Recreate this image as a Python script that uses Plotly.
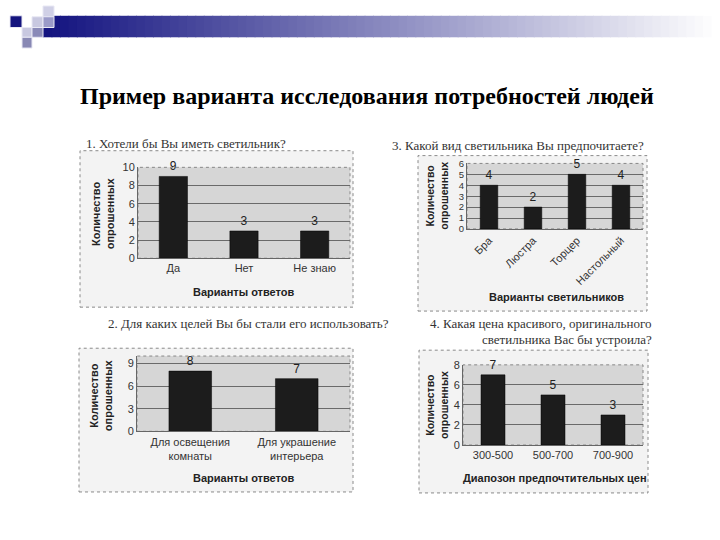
import plotly.graph_objects as go

# ---------------- data ----------------
title_text = "Пример варианта исследования потребностей людей"

q1_title = "1. Хотели бы Вы иметь светильник?"
q1_cats = ["Да", "Нет", "Не знаю"]
q1_vals = [9, 3, 3]
q1_xtitle = "Варианты ответов"

q2_title = "2. Для каких целей Вы бы стали его использовать?"
q2_cats = ["Для освещения<br>комнаты", "Для украшение<br>интерьера"]
q2_vals = [8, 7]
q2_xtitle = "Варианты ответов"

q3_title = "3. Какой вид светильника Вы предпочитаете?"
q3_cats = ["Бра", "Люстра", "Торцер", "Настольный"]
q3_vals = [4, 2, 5, 4]
q3_xtitle = "Варианты светильников"

q4_title_1 = "4. Какая цена красивого, оригинального"
q4_title_2 = "светильника Вас бы устроила?"
q4_cats = ["300-500", "500-700", "700-900"]
q4_vals = [7, 5, 3]
q4_xtitle = "Диапозон предпочтительных цен"

y_title = "Количество<br>опрошенных"

W, H = 720, 540


def px(x):
    return x / W


def py(y):
    return 1 - y / H


SANS = "Liberation Sans, Arial, sans-serif"
SERIF = "Liberation Serif, Times New Roman, serif"
BAR = "#1c1c1c"

fig = go.Figure()

panels = [
    dict(c=q1_cats, v=q1_vals, xd=(138, 350), yd=(165, 258), yr=10, dt=2, ang=0, fs=11, yfs=11),
    dict(c=q3_cats, v=q3_vals, xd=(467, 643), yd=(161, 228), yr=6, dt=1, ang=-45, fs=11, yfs=9.5),
    dict(c=q2_cats, v=q2_vals, xd=(137, 350), yd=(358, 435), yr=10, dt=3, ang=0, fs=11, yfs=11),
    dict(c=q4_cats, v=q4_vals, xd=(463, 643), yd=(367, 449), yr=8, dt=2, ang=0, fs=11, yfs=11),
]

for i, p in enumerate(panels):
    n = "" if i == 0 else str(i + 1)
    fig.add_trace(go.Bar(
        x=p["c"], y=p["v"], text=[str(v) for v in p["v"]],
        textposition="outside", cliponaxis=False,
        textfont=dict(family=SANS, size=12, color="#222"),
        marker=dict(color=BAR, line=dict(color="#000", width=0.5)),
        xaxis="x" + n, yaxis="y" + n, showlegend=False,
    ))
    fig.update_layout(**{
        "xaxis" + n: dict(
            domain=[px(p["xd"][0]), px(p["xd"][1])], anchor="y" + n,
            tickangle=p["ang"], tickfont=dict(family=SANS, size=p["fs"], color="#333"),
            showline=True, linecolor="#666", linewidth=1, ticks="",
            showgrid=False, fixedrange=True,
        ),
        "yaxis" + n: dict(
            domain=[py(p["yd"][1]), py(p["yd"][0])], anchor="x" + n,
            range=[0, p["yr"]], dtick=p["dt"],
            tickfont=dict(family=SANS, size=p["yfs"], color="#333"),
            showline=True, linecolor="#666", linewidth=1,
            ticks="",
            showgrid=True, gridcolor="#6a6a6a", gridwidth=1,
            zeroline=False, fixedrange=True,
        ),
    })

fig.update_layout(bargap=0.6)

shapes = []
# header gradient band
x0, x1 = 43, 720
steps = 80
c0 = (20, 20, 128)
for k in range(steps):
    t = k / (steps - 1)
    col = tuple(int(c0[j] + (255 - c0[j]) * t) for j in range(3))
    xa = x0 + (x1 - x0) * k / steps
    xb = x0 + (x1 - x0) * (k + 1) / steps + 1
    shapes.append(dict(type="rect", xref="paper", yref="paper",
                       x0=px(xa), x1=px(min(xb, W)), y0=py(32), y1=py(10),
                       fillcolor="rgb(%d,%d,%d)" % col, line=dict(width=0), layer="below"))
# decorative squares
squares = [
    (10, 10, 22, 22, "#14147e"),
    (32, 11, 43, 22, "#c8c8e0"),
    (43, 0, 54, 11, "#d0d0e6"),
    (43, 11, 54, 22, "#9a9ac8"),
    (22, 22, 32, 32, "#c8c8e0"),
    (32, 22, 43, 32, "#8a8ab8"),
    (22, 32, 32, 43, "#8888b4"),
]
for a, b, c, d, col in squares:
    shapes.append(dict(type="rect", xref="paper", yref="paper",
                       x0=px(a), x1=px(c), y0=py(d), y1=py(b),
                       fillcolor=col, line=dict(color="#e8e8f4", width=1), layer="below"))

# chart frames
frames = [(80, 148, 353, 308), (418, 153, 647, 312), (79, 350, 353, 497), (419, 352, 648, 498)]
for a, b, c, d in frames:
    shapes.append(dict(type="rect", xref="paper", yref="paper",
                       x0=px(a), x1=px(c), y0=py(d), y1=py(b),
                       fillcolor="#f3f3f3", line=dict(color="#8a8a8a", width=1, dash="dot"),
                       layer="below"))
# plot area backgrounds
for p in panels:
    shapes.append(dict(type="rect", xref="paper", yref="paper",
                       x0=px(p["xd"][0]), x1=px(p["xd"][1]),
                       y0=py(p["yd"][1]), y1=py(p["yd"][0]),
                       fillcolor="#d6d6d6", line=dict(color="#888", width=1, dash="dot"),
                       layer="below"))

annotations = [
    dict(text="<b>" + title_text + "</b>", x=px(367), y=py(92), xanchor="center", yanchor="middle",
         font=dict(family=SERIF, size=24, color="#000")),
    dict(text=q1_title, x=px(84), y=py(141), xanchor="left", yanchor="middle",
         font=dict(family=SERIF, size=13, color="#333")),
    dict(text=q3_title, x=px(390), y=py(143), xanchor="left", yanchor="middle",
         font=dict(family=SERIF, size=13, color="#333")),
    dict(text=q2_title, x=px(106), y=py(325), xanchor="left", yanchor="middle",
         font=dict(family=SERIF, size=13, color="#333")),
    dict(text=q4_title_1, x=px(428), y=py(325), xanchor="left", yanchor="middle",
         font=dict(family=SERIF, size=13, color="#333")),
    dict(text=q4_title_2, x=px(654), y=py(341), xanchor="right", yanchor="middle",
         font=dict(family=SERIF, size=13, color="#333")),
    # x axis titles
    dict(text="<b>" + q1_xtitle + "</b>", x=px(244), y=py(293), xanchor="center", yanchor="middle",
         font=dict(family=SANS, size=11, color="#222")),
    dict(text="<b>" + q3_xtitle + "</b>", x=px(556), y=py(298), xanchor="center", yanchor="middle",
         font=dict(family=SANS, size=11, color="#222")),
    dict(text="<b>" + q2_xtitle + "</b>", x=px(244), y=py(483), xanchor="center", yanchor="middle",
         font=dict(family=SANS, size=11, color="#222")),
    dict(text="<b>" + q4_xtitle + "</b>", x=px(555), y=py(483), xanchor="center", yanchor="middle",
         font=dict(family=SANS, size=11, color="#222")),
]
# y axis titles
for xc, yc, fs in [(103, 212, 11), (437, 194, 10.5), (101, 398, 11), (437, 408, 10.5)]:
    annotations.append(dict(text="<b>" + y_title + "</b>", x=px(xc), y=py(yc),
                            xanchor="center", yanchor="middle", textangle=-90,
                            font=dict(family=SANS, size=fs, color="#222")))
for a in annotations:
    a.update(xref="paper", yref="paper", showarrow=False)

fig.update_layout(
    width=W, height=H, margin=dict(l=0, r=0, t=0, b=0),
    paper_bgcolor="white", plot_bgcolor="rgba(0,0,0,0)",
    shapes=shapes, annotations=annotations,
)

fig.write_html("out.html")
